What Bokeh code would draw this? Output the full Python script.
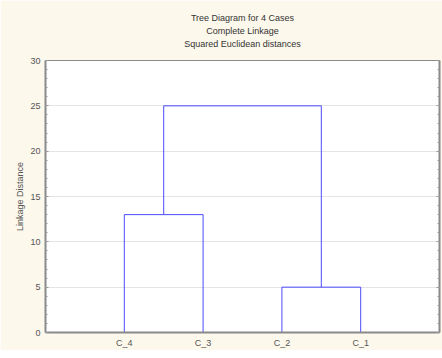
from bokeh.plotting import figure
from bokeh.models import Title, LinearAxis, SingleIntervalTicker, FixedTicker, Range1d
from bokeh.embed import file_html
from bokeh.resources import INLINE

# ---- data ----
leaves = ["C_4", "C_3", "C_2", "C_1"]
# merges: (left member, right member, linkage distance); members are leaf names or merge indices
merge_left = ["C_4", "C_2", 0]
merge_right = ["C_3", "C_1", 1]
merge_height = [13, 5, 25]
title_lines = ["Tree Diagram for 4 Cases", "Complete Linkage", "Squared Euclidean distances"]
y_label = "Linkage Distance"

BG = "#fdf8ec"
LINE = "#4b4bff"
FONT = "Liberation Sans"

p = figure(width=442, height=350, output_backend="svg", toolbar_location=None,
           x_range=Range1d(0, len(leaves) + 1), y_range=Range1d(0, 30),
           x_axis_location=None, y_axis_location=None, title=None,
           min_border_left=45, min_border_right=3, min_border_top=60, min_border_bottom=0)
p.background_fill_color = "white"
p.border_fill_color = BG
p.outline_line_color = "#8a8a8a"
p.outline_line_width = 1

# positions of leaves
pos = {name: i + 1 for i, name in enumerate(leaves)}
heights = {name: 0 for name in leaves}
xs, ys = [], []
for k, (a, b, h) in enumerate(zip(merge_left, merge_right, merge_height)):
    xa, ya = pos[a], heights[a]
    xb, yb = pos[b], heights[b]
    xs.append([xa, xa, xb, xb])
    ys.append([ya, h, h, yb])
    pos[k] = (xa + xb) / 2
    heights[k] = h
p.multi_line(xs, ys, line_color=LINE, line_width=1)

# axes
ytick = SingleIntervalTicker(interval=5, num_minor_ticks=5)
yl = LinearAxis(ticker=ytick, axis_label=y_label)
yl.axis_line_color = "#8a8a8a"
yl.axis_line_width = 2
yl.major_tick_out = 0
yl.major_tick_in = 3
yl.minor_tick_out = 0
yl.minor_tick_in = 2
yl.major_tick_line_color = "#9a9a9a"
yl.minor_tick_line_color = "#9a9a9a"
yl.major_label_text_font = FONT
yl.major_label_text_font_size = "9px"
yl.major_label_text_color = "#555555"
yl.major_label_standoff = 5
yl.axis_label_text_font = FONT
yl.axis_label_text_font_size = "9px"
yl.axis_label_text_font_style = "normal"
yl.axis_label_text_color = "#555555"
yl.axis_label_standoff = 2
p.add_layout(yl, "left")

yr = LinearAxis(ticker=SingleIntervalTicker(interval=5, num_minor_ticks=5))
yr.axis_line_color = "#8a8a8a"
yr.axis_line_width = 2
yr.major_tick_out = 0
yr.major_tick_in = 3
yr.minor_tick_out = 0
yr.minor_tick_in = 2
yr.major_tick_line_color = "#9a9a9a"
yr.minor_tick_line_color = "#9a9a9a"
yr.major_label_text_font_size = "1px"
yr.major_label_text_alpha = 0
yr.major_label_standoff = 0
p.add_layout(yr, "right")

xb = LinearAxis(ticker=FixedTicker(ticks=list(range(1, len(leaves) + 1))))
xb.major_label_overrides = {i + 1: n for i, n in enumerate(leaves)}
xb.axis_line_color = "#8a8a8a"
xb.axis_line_width = 2
xb.major_tick_out = 0
xb.major_tick_in = 0
xb.minor_tick_out = 0
xb.major_label_text_font = FONT
xb.major_label_text_font_size = "9px"
xb.major_label_text_color = "#555555"
xb.major_label_standoff = 5
p.add_layout(xb, "below")

p.xgrid.visible = False
p.ygrid.ticker = ytick
p.ygrid.grid_line_color = "#e4e4e4"
p.ygrid.grid_line_width = 1

# spacer between the title block and the plot frame
p.add_layout(Title(text=" ", text_font_size="2px", standoff=7), "above")
for t in reversed(title_lines):
    p.add_layout(Title(text=t, align="center", text_font=FONT, text_font_size="9px",
                       text_font_style="normal", text_color="#333333",
                       standoff=1, offset=-14), "above")

open("out.html", "w").write(file_html(p, INLINE))
